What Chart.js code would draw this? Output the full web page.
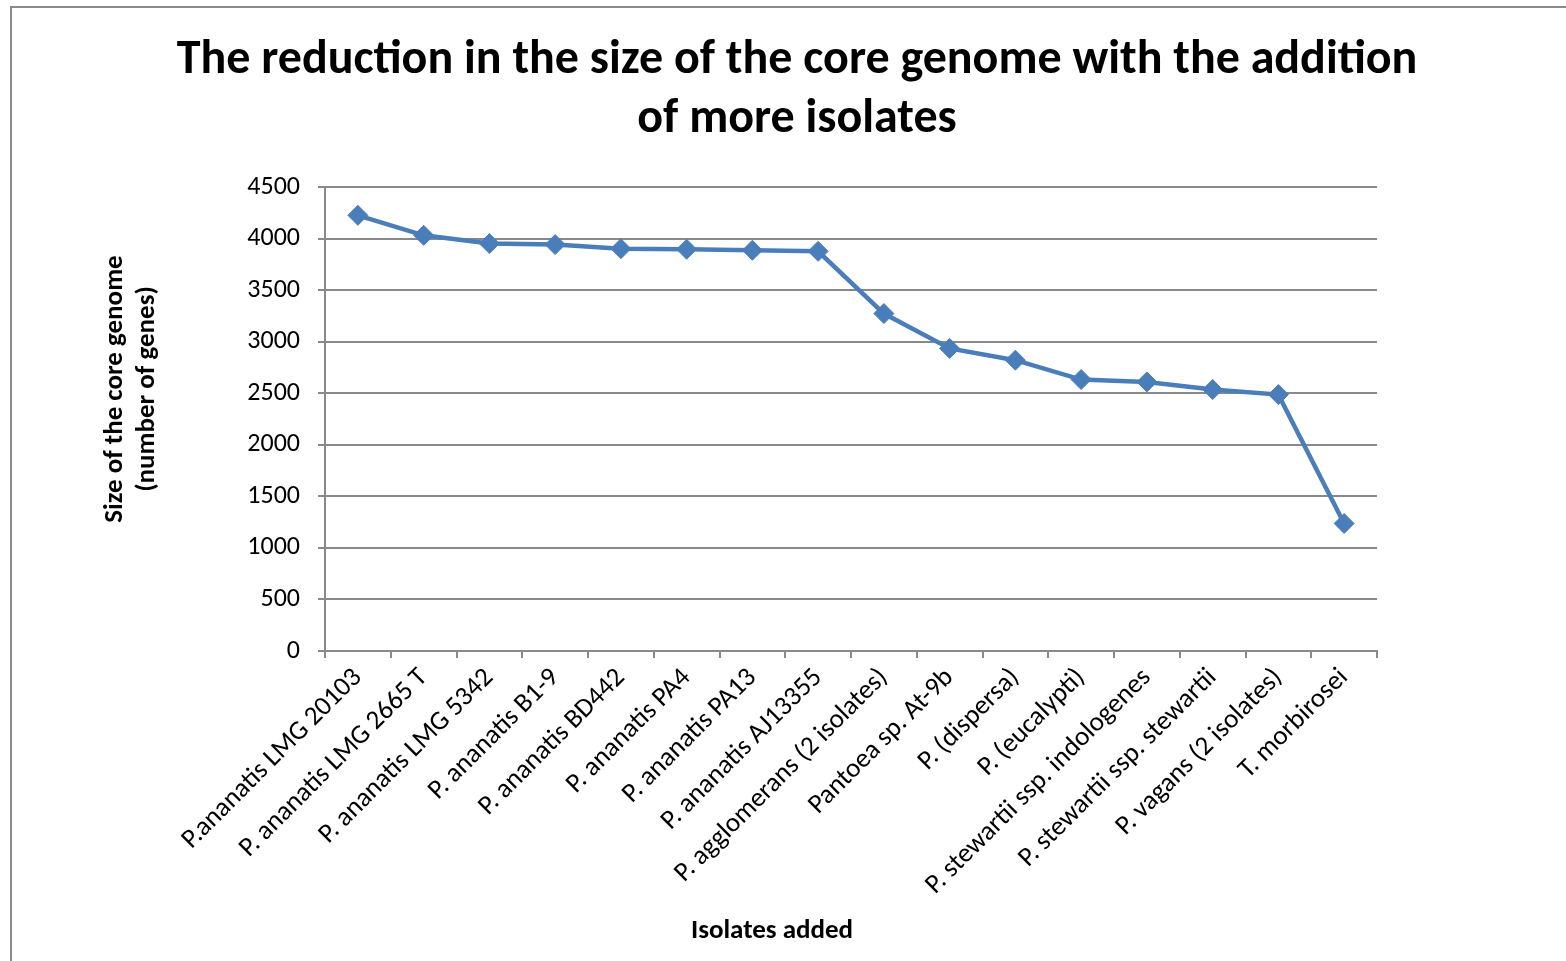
<!DOCTYPE html>
<html>
<head>
<meta charset="utf-8">
<title>Core genome size</title>
<script src="https://cdn.jsdelivr.net/npm/chart.js@4.4.1/dist/chart.umd.min.js"></script>
<style>
  html, body { margin: 0; padding: 0; background: #ffffff; }
  #wrap { position: relative; width: 1566px; height: 961px; }
</style>
</head>
<body>
<div id="wrap"><canvas id="chart" width="1566" height="961"></canvas></div>
<script>
// Isolates, in the order they were added to the comparison
const isolates = [
  'P.ananatis LMG 20103',
  'P. ananatis LMG 2665 T',
  'P. ananatis LMG 5342',
  'P. ananatis B1-9',
  'P. ananatis BD442',
  'P. ananatis PA4',
  'P. ananatis PA13',
  'P. ananatis AJ13355',
  'P. agglomerans (2 isolates)',
  'Pantoea sp. At-9b',
  'P. (dispersa)',
  'P. (eucalypti)',
  'P. stewartii ssp. indologenes',
  'P. stewartii ssp. stewartii',
  'P. vagans (2 isolates)',
  'T. morbirosei'
];

// Core genome size (number of genes) after each isolate is added
const coreGenomeSize = [4226, 4032, 3952, 3942, 3903, 3897, 3887, 3877, 3273, 2935, 2821, 2633, 2610, 2536, 2487, 1237];

// Value axis range and step
const yMin = 0;
const yMax = 4500;
const yStep = 500;

const titleLines = ['The reduction in the size of the core genome with the addition', 'of more isolates'];
const yTitleLines = ['Size of the core genome', '(number of genes)'];
const xTitle = 'Isolates added';

const FONT = 'Carlito, Lato, "Open Sans", sans-serif';
const LINE_BLUE = '#4A7EBB';
const GRID_GREY = '#898989';

// Outer frame around the whole chart
const framePlugin = {
  id: 'frame',
  beforeDraw(chart) {
    const ctx = chart.ctx;
    ctx.save();
    ctx.strokeStyle = '#8a8a8a';
    ctx.lineWidth = 2;
    ctx.strokeRect(11, 7, chart.width + 40, chart.height + 40);
    ctx.restore();
  }
};

// Re-centre the main title and the bottom axis caption horizontally
const centrePlugin = {
  id: 'centreTitles',
  afterLayout(chart) {
    const setCentre = (box, cx) => {
      if (!box) return;
      const half = Math.min(cx, chart.width - cx);
      box.left = cx - half;
      box.right = cx + half;
      box.width = 2 * half;
    };
    const titleBoxes = chart.boxes.filter(b => !(b instanceof Chart.Scale) && b.options && b.options.text !== undefined);
    titleBoxes.forEach(b => {
      if (b.options.text === xTitle) setCentre(b, 772);
      else setCentre(b, 797);
    });
  }
};

// Two-line vertical caption for the value axis, left of the tick labels
const yCaptionPlugin = {
  id: 'yCaption',
  afterDraw(chart) {
    const ctx = chart.ctx;
    const cx = 115, cy = 389, lineGap = 32;
    ctx.save();
    ctx.fillStyle = '#000000';
    ctx.font = 'bold 27px ' + FONT;
    ctx.textAlign = 'center';
    ctx.textBaseline = 'middle';
    yTitleLines.forEach((line, i) => {
      ctx.save();
      ctx.translate(cx + i * lineGap, cy);
      ctx.rotate(-Math.PI / 2);
      ctx.fillText(line, 0, 0);
      ctx.restore();
    });
    ctx.restore();
  }
};

new Chart(document.getElementById('chart'), {
  type: 'line',
  data: {
    labels: isolates,
    datasets: [{
      data: coreGenomeSize,
      borderColor: LINE_BLUE,
      backgroundColor: LINE_BLUE,
      borderWidth: 4.5,
      tension: 0,
      fill: false,
      pointStyle: 'rectRot',
      pointRadius: 10,
      pointBorderWidth: 1,
      pointBackgroundColor: LINE_BLUE,
      pointBorderColor: LINE_BLUE
    }]
  },
  options: {
    responsive: false,
    animation: false,
    devicePixelRatio: 1,
    layout: { padding: { left: 0, right: 189, top: 0, bottom: 0 } },
    plugins: {
      legend: { display: false },
      tooltip: { enabled: false },
      title: {
        display: true,
        text: titleLines,
        color: '#000000',
        font: { family: FONT, size: 48, weight: 'bold', lineHeight: 1.23 },
        padding: { top: 31.5, bottom: 37.5 }
      },
      subtitle: {
        display: true,
        position: 'bottom',
        text: xTitle,
        color: '#000000',
        font: { family: FONT, size: 27, weight: 'bold', lineHeight: 1.2 },
        padding: { top: 0, bottom: 13.8 }
      }
    },
    scales: {
      x: {
        type: 'category',
        offset: true,
        afterFit(scale) { scale.height = 263.8; },
        grid: {
          offset: true,
          drawOnChartArea: false,
          drawTicks: true,
          tickLength: 7,
          color: GRID_GREY,
          lineWidth: 2
        },
        border: { display: true, color: GRID_GREY, width: 2 },
        ticks: {
          autoSkip: false,
          minRotation: 45,
          maxRotation: 45,
          padding: 4,
          color: '#000000',
          font: { family: FONT, size: 27 }
        }
      },
      y: {
        min: yMin,
        max: yMax,
        afterFit(scale) { scale.width = 325; },
        grid: {
          color: GRID_GREY,
          lineWidth: 2,
          tickLength: 7
        },
        border: { display: true, color: GRID_GREY, width: 2 },
        ticks: {
          stepSize: yStep,
          padding: 18,
          color: '#000000',
          font: { family: FONT, size: 26 },
          callback: (value) => String(value)
        },
        title: { display: false }
      }
    }
  },
  plugins: [framePlugin, centrePlugin, yCaptionPlugin]
});
</script>
</body>
</html>
